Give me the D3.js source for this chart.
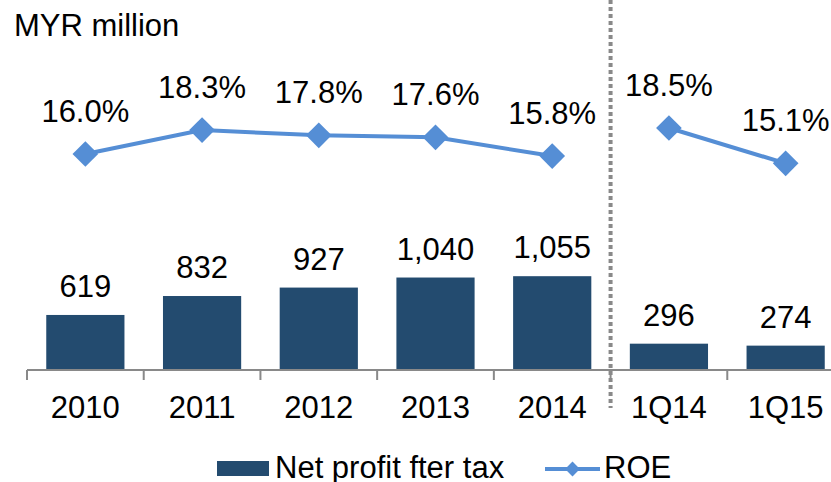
<!DOCTYPE html>
<html>
<head>
<meta charset="utf-8">
<script src="https://cdn.jsdelivr.net/npm/d3@7"></script>
<style>
  body { margin: 0; background: #fff; }
  text { font-family: "Liberation Sans", Arial, sans-serif; fill: #000; }
</style>
</head>
<body>
<svg id="chart" width="831" height="482"></svg>
<script>
const categories = ["2010", "2011", "2012", "2013", "2014", "1Q14", "1Q15"];
const netProfit = [619, 832, 927, 1040, 1055, 296, 274];
const roe = [16.0, 18.3, 17.8, 17.6, 15.8, 18.5, 15.1];
const lineGroups = [[0, 1, 2, 3, 4], [5, 6]];

const barColor = "#234B6F";
const lineColor = "#558ED5";
const axisColor = "#898989";
const fontSize = 31;

const svg = d3.select("#chart");

const x = d3.scaleBand()
    .domain(categories)
    .range([27, 844])
    .paddingInner(0.33)
    .paddingOuter(0.165);

const yBar = d3.scaleLinear().domain([0, 1200]).range([370, 263.3]);
const yRoe = d3.scaleLinear().domain([15, 19]).range([164.4, 122.8]);

const gap = (x.step() - x.bandwidth()) / 2;

// unit label
svg.append("text")
    .attr("x", 14)
    .attr("y", 36)
    .style("font-size", fontSize + "px")
    .text("MYR million");

// bars
svg.append("g").selectAll("rect")
    .data(categories)
    .join("rect")
    .attr("x", d => x(d))
    .attr("y", (d, i) => yBar(netProfit[i]))
    .attr("width", x.bandwidth())
    .attr("height", (d, i) => yBar(0) - yBar(netProfit[i]))
    .attr("fill", barColor);

// bar value labels
svg.append("g").selectAll("text")
    .data(categories)
    .join("text")
    .attr("x", d => x(d) + x.bandwidth() / 2)
    .attr("y", (d, i) => yBar(netProfit[i]) - 18)
    .attr("text-anchor", "middle")
    .style("font-size", fontSize + "px")
    .text((d, i) => d3.format(",")(netProfit[i]));

// x axis
const axis = svg.append("g");
axis.append("line")
    .attr("x1", 27).attr("x2", 831)
    .attr("y1", yBar(0)).attr("y2", yBar(0))
    .attr("stroke", axisColor).attr("stroke-width", 2);
const tickPos = categories.map(d => x(d) - gap).concat([x(categories[categories.length - 1]) + x.bandwidth() + gap]);
axis.selectAll("line.tick")
    .data(tickPos)
    .join("line")
    .attr("class", "tick")
    .attr("x1", d => d).attr("x2", d => d)
    .attr("y1", yBar(0)).attr("y2", yBar(0) + 10)
    .attr("stroke", axisColor).attr("stroke-width", 2);
axis.selectAll("text")
    .data(categories)
    .join("text")
    .attr("x", d => x(d) + x.bandwidth() / 2)
    .attr("y", 418)
    .attr("text-anchor", "middle")
    .style("font-size", fontSize + "px")
    .text(d => d);

// divider between years and quarters
svg.append("line")
    .attr("x1", x("1Q14") - gap).attr("x2", x("1Q14") - gap)
    .attr("y1", 0).attr("y2", 408)
    .attr("stroke", axisColor)
    .attr("stroke-width", 4)
    .attr("stroke-dasharray", "4,3");

// ROE line
const line = d3.line()
    .x(i => x(categories[i]) + x.bandwidth() / 2)
    .y(i => yRoe(roe[i]));

svg.append("g").selectAll("path")
    .data(lineGroups)
    .join("path")
    .attr("d", line)
    .attr("fill", "none")
    .attr("stroke", lineColor)
    .attr("stroke-width", 4);

const diamond = d3.symbol().type(d3.symbolSquare).size(330);
svg.append("g").selectAll("path")
    .data(categories)
    .join("path")
    .attr("d", diamond)
    .attr("transform", (d, i) => `translate(${x(d) + x.bandwidth() / 2},${yRoe(roe[i])}) rotate(45)`)
    .attr("fill", lineColor);

svg.append("g").selectAll("text")
    .data(categories)
    .join("text")
    .attr("x", d => x(d) + x.bandwidth() / 2)
    .attr("y", (d, i) => yRoe(roe[i]) - 32)
    .attr("text-anchor", "middle")
    .style("font-size", fontSize + "px")
    .text((d, i) => roe[i].toFixed(1) + "%");

// legend
const legend = svg.append("g").attr("transform", "translate(217,461)");
legend.append("rect")
    .attr("x", 0).attr("y", 0)
    .attr("width", 52).attr("height", 15)
    .attr("fill", barColor);
legend.append("text")
    .attr("x", 58).attr("y", 17)
    .style("font-size", fontSize + "px")
    .text("Net profit fter tax");
legend.append("line")
    .attr("x1", 328).attr("x2", 383)
    .attr("y1", 8).attr("y2", 8)
    .attr("stroke", lineColor).attr("stroke-width", 4);
legend.append("path")
    .attr("d", d3.symbol().type(d3.symbolSquare).size(110))
    .attr("transform", "translate(355.5,8) rotate(45)")
    .attr("fill", lineColor);
legend.append("text")
    .attr("x", 387).attr("y", 17)
    .style("font-size", fontSize + "px")
    .text("ROE");
</script>
</body>
</html>
